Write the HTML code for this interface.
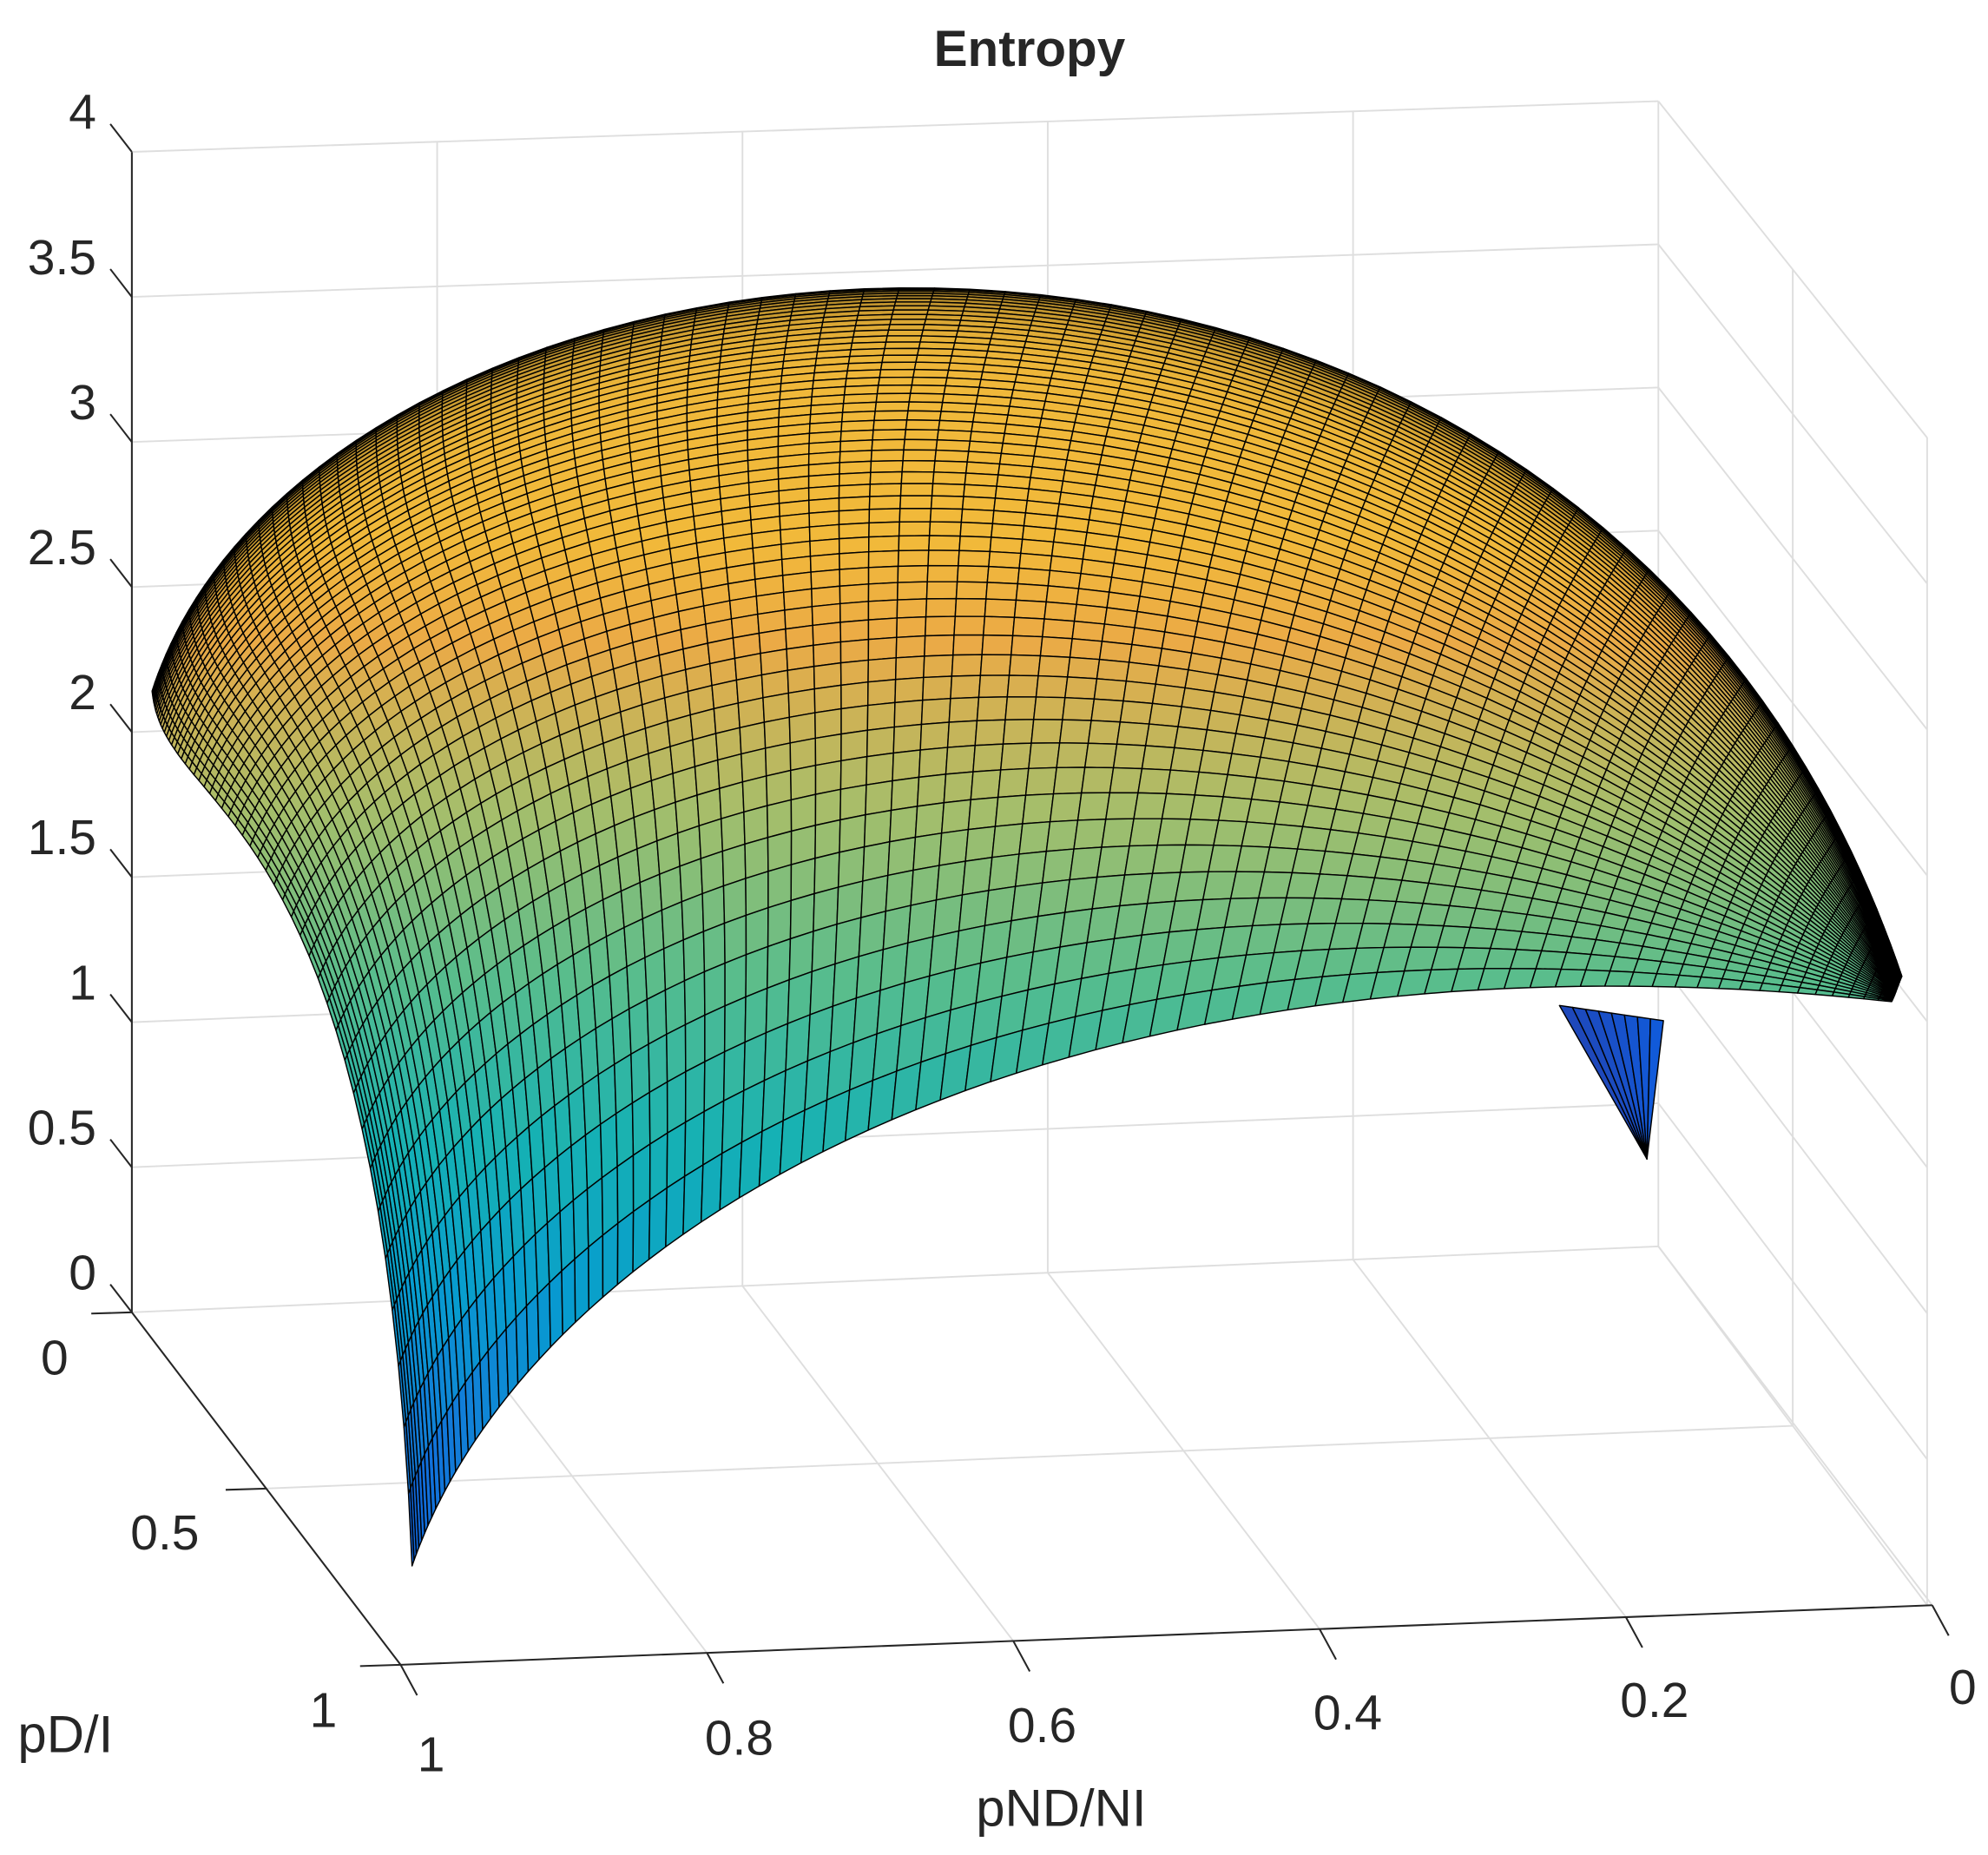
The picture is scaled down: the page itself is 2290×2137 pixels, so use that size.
<!DOCTYPE html>
<html><head><meta charset="utf-8"><style>
html,body{margin:0;padding:0;background:#fff;}
svg{display:block;}
text{font-family:"Liberation Sans",Arial,sans-serif;fill:#262626;}
</style></head><body>
<svg id="s" width="2290" height="2137" viewBox="0 0 1568 1463" preserveAspectRatio="none" xmlns="http://www.w3.org/2000/svg">
<g id="grid" stroke="#dedede" stroke-width="1.3" fill="none"></g>
<g id="surf" stroke="#000" stroke-width="1" stroke-linejoin="round"></g>
<g id="axes" stroke="#262626" stroke-width="1.4" fill="none"></g>
<g id="labels" font-size="39">
<text x="812" y="52" text-anchor="middle" font-weight="bold" font-size="40" fill="#000">Entropy</text>
</g>
</svg>
<script>
(function(){
var NS="http://www.w3.org/2000/svg";
function el(p,t,a){var e=document.createElementNS(NS,t);for(var k in a)e.setAttribute(k,a[k]);p.appendChild(e);return e;}
function line(p,x1,y1,x2,y2){el(p,"line",{x1:x1,y1:y1,x2:x2,y2:y2});}
var G=document.getElementById("grid"),A=document.getElementById("axes"),S=document.getElementById("surf"),L=document.getElementById("labels");
for(var k=0;k<=8;k++){
  var yl=1035-k*114.4, yr=983-k*112.9, yf=1266-k*115.1;
  line(G,104,yl,1308,yr); line(G,1308,yr,1520,yf);
}
for(var i=0;i<=5;i++){
  var xb=104+i*240.8, yb=1035-i*10.4, yt=120-i*8;
  line(G,xb,yb,xb,yt);
  line(G,xb,yb,316+i*241.6,1313-i*9.4);
}
line(G,1414,1124.5,1414,212.5); line(G,1520,1266,1520,345);
line(G,210,1174,1414,1124.5);
line(A,104,120,104,1035);
line(A,104,1035,316,1313);
line(A,316,1313,1524,1266);
for(var k=0;k<=8;k++){var y=1035-k*114.4;line(A,104,y,87,y-22);}
[[104,1035],[210,1174],[316,1313]].forEach(function(p){line(A,p[0],p[1],p[0]-32,p[1]+1);});
for(var i=0;i<=5;i++){var x=316+i*241.6,y=1313-i*9.4;line(A,x,y,x+13,y+24);}
var zl=["0","0.5","1","1.5","2","2.5","3","3.5","4"];
for(var k=0;k<=8;k++){var t=el(L,"text",{x:76,y:1035-k*114.4-18,"text-anchor":"end"});t.textContent=zl[k];}
[["0",43,1084],["0.5",130,1222],["1",255,1362]].forEach(function(a){var t=el(L,"text",{x:a[1],y:a[2],"text-anchor":"middle"});t.textContent=a[0];});
[["1",340,1397],["0.8",583,1384],["0.6",822,1374],["0.4",1063,1364],["0.2",1305,1354],["0",1548,1344]].forEach(function(a){var t=el(L,"text",{x:a[1],y:a[2],"text-anchor":"middle"});t.textContent=a[0];});
var t=el(L,"text",{x:837,y:1440,"text-anchor":"middle","font-size":"41"});t.textContent="pND/NI";
t=el(L,"text",{x:14,y:1382,"font-size":"41"});t.textContent="pD/I";

function bez(P,t){var u=1-t,a=u*u*u,b=3*u*u*t,c=3*u*t*t,d=t*t*t;
 return [a*P[0][0]+b*P[1][0]+c*P[2][0]+d*P[3][0],a*P[0][1]+b*P[1][1]+c*P[2][1]+d*P[3][1]];}
var T=[[120,545],[250,140],[1250,30],[1500,770]];
var B=[[325,1235],[420,960],[850,720],[1492,790]];
var Lc=[[120,545],[130,650],[300,620],[325,1235]];
var R=[[1500,770],[1497,777],[1495,784],[1492,790]];
var cA=[120,545],cTR=[1500,770],cC=[325,1235],cBR=[1492,790];
function P(u,v){var t=bez(T,u),b=bez(B,u),l=bez(Lc,v),r=bez(R,v),o=[];
 for(var j=0;j<2;j++)o[j]=(1-v)*t[j]+v*b[j]+(1-u)*l[j]+u*r[j]-((1-u)*(1-v)*cA[j]+u*(1-v)*cTR[j]+(1-u)*v*cC[j]+u*v*cBR[j]);return o;}
var stops=[[53,42,135],[15,92,221],[18,125,216],[7,156,207],[21,177,180],[89,189,140],[165,190,107],[235,170,70],[245,195,50],[245,231,29],[249,251,14]];
function parula(t,dk){t=Math.max(0,Math.min(1,t))*10;var i=Math.min(9,Math.floor(t)),f=t-i,a=stops[i],b=stops[i+1];
 return "rgb("+Math.round((a[0]+(b[0]-a[0])*f)*dk)+","+Math.round((a[1]+(b[1]-a[1])*f)*dk)+","+Math.round((a[2]+(b[2]-a[2])*f)*dk)+")";}
var N=84,M=56,us=[],vs=[];
for(var i=0;i<=N;i++){var s=i/N;us.push(0.55*(0.5-0.5*Math.cos(Math.PI*s))+0.45*s);}
for(var j=0;j<=M;j++){var s=j/M;vs.push(Math.pow(s,1.8));}
var pts=[];
for(var j=0;j<=M;j++){pts[j]=[];for(var i=0;i<=N;i++)pts[j][i]=P(us[i],vs[j]);}
var frag=document.createDocumentFragment();
for(var j=0;j<M;j++)for(var i=0;i<N;i++){
 var a=pts[j][i],b=pts[j][i+1],c=pts[j+1][i+1],d=pts[j+1][i];
 var cy=(a[1]+b[1]+c[1]+d[1])/4;
 var tv=0.48+(800-cy)*0.00075; if(cy>950)tv-=(cy-950)*0.0002;
 tv=Math.min(tv,0.76);
 var vv=vs[j];var dk=1-0.35*Math.exp(-vv*25);
 var p=document.createElementNS(NS,"polygon");
 p.setAttribute("points",a[0].toFixed(1)+","+a[1].toFixed(1)+" "+b[0].toFixed(1)+","+b[1].toFixed(1)+" "+c[0].toFixed(1)+","+c[1].toFixed(1)+" "+d[0].toFixed(1)+","+d[1].toFixed(1));
 p.setAttribute("fill",parula(tv,dk));frag.appendChild(p);
}
var sp=[[1230,793],[1312,805],[1299,914]];
for(var k=0;k<8;k++){
 var f0=k/8,f1=(k+1)/8;
 var x0=sp[0][0]+(sp[1][0]-sp[0][0])*f0,y0=sp[0][1]+(sp[1][1]-sp[0][1])*f0;
 var x1=sp[0][0]+(sp[1][0]-sp[0][0])*f1,y1=sp[0][1]+(sp[1][1]-sp[0][1])*f1;
 var p=document.createElementNS(NS,"polygon");
 p.setAttribute("points",x0+","+y0+" "+x1+","+y1+" "+sp[2][0]+","+sp[2][1]);
 p.setAttribute("fill",parula(0.06+0.04*f0,1));S.appendChild(p);
}
S.appendChild(frag);
})();
</script>
</body></html>
